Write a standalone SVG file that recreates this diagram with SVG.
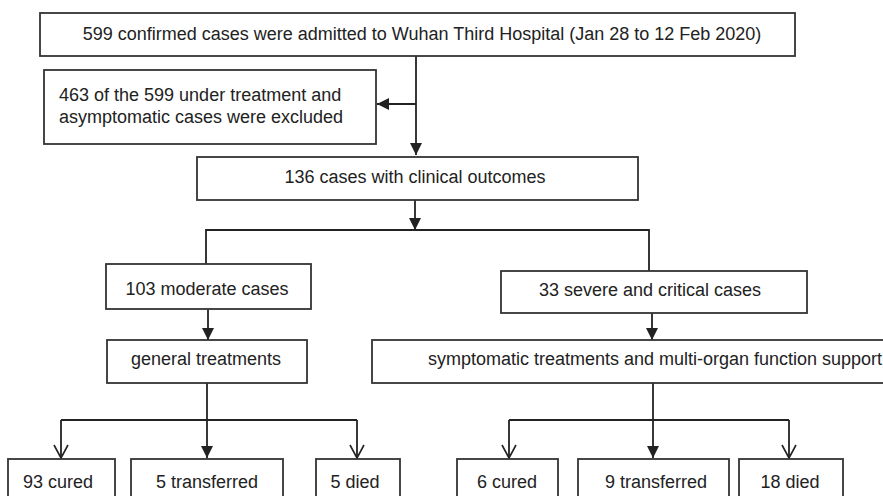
<svg xmlns="http://www.w3.org/2000/svg" width="883" height="496" viewBox="0 0 883 496">
<style>
  .box { fill: #ffffff; stroke: #333333; stroke-width: 1.8; }
  .t { font-family: "Liberation Sans", Arial, sans-serif; font-size: 18px; fill: #222222; }
  .c { text-anchor: middle; }
  .ln { fill: none; stroke: #222222; stroke-width: 1.8; }
</style>
<defs>
  <marker id="af" viewBox="0 0 12 12" refX="12" refY="6" markerWidth="12" markerHeight="12" markerUnits="userSpaceOnUse" orient="auto">
    <path d="M0,0 L12,6 L0,12 z" fill="#222222"/>
  </marker>
  <marker id="ao" viewBox="-1 -1 16 16" refX="13" refY="7" markerWidth="16" markerHeight="16" markerUnits="userSpaceOnUse" orient="auto">
    <path d="M0,0 L13,7 L0,14" fill="none" stroke="#222222" stroke-width="1.6"/>
  </marker>
</defs>
<rect width="883" height="496" fill="#ffffff"/>

<g id="connectors">
  <path class="ln" d="M416,56 V155" marker-end="url(#af)"/>
  <path class="ln" d="M416,104 H377" marker-end="url(#af)"/>
  <path class="ln" d="M415,200 V230" marker-end="url(#af)"/>
  <path class="ln" d="M206,264 V230 H649 V271"/>
  <path class="ln" d="M208,309 V340" marker-end="url(#af)"/>
  <path class="ln" d="M652,313 V340" marker-end="url(#af)"/>
  <path class="ln" d="M207,383 V458" marker-end="url(#af)"/>
  <path class="ln" d="M61,420 H357"/>
  <path class="ln" d="M61,420 V458" marker-end="url(#ao)"/>
  <path class="ln" d="M357,420 V458" marker-end="url(#ao)"/>
  <path class="ln" d="M653,383 V458" marker-end="url(#af)"/>
  <path class="ln" d="M509,420 H789"/>
  <path class="ln" d="M509,420 V458" marker-end="url(#ao)"/>
  <path class="ln" d="M789,420 V458" marker-end="url(#ao)"/>
</g>

<g id="n_admitted">
  <rect class="box" x="40" y="13" width="755" height="43"/>
  <text class="t c" x="422" y="40">599 confirmed cases were admitted to Wuhan Third Hospital (Jan 28 to 12 Feb 2020)</text>
</g>
<g id="n_excluded">
  <rect class="box" x="44" y="70" width="332" height="74"/>
  <text class="t" x="59" y="101">463 of the 599 under treatment and</text>
  <text class="t" x="59" y="123">asymptomatic cases were excluded</text>
</g>
<g id="n_outcomes">
  <rect class="box" x="197" y="157" width="441" height="43"/>
  <text class="t c" x="415" y="183">136 cases with clinical outcomes</text>
</g>
<g id="n_moderate">
  <rect class="box" x="106" y="264" width="205" height="45"/>
  <text class="t c" x="207" y="295">103 moderate cases</text>
</g>
<g id="n_severe">
  <rect class="box" x="501" y="271" width="306" height="42"/>
  <text class="t c" x="650" y="296">33 severe and critical cases</text>
</g>
<g id="n_general">
  <rect class="box" x="107" y="340" width="200" height="43"/>
  <text class="t c" x="206" y="365">general treatments</text>
</g>
<g id="n_symptomatic">
  <rect class="box" x="372" y="340" width="570" height="43"/>
  <text class="t c" x="655" y="365">symptomatic treatments and multi-organ function support</text>
</g>
<g id="n_m_cured">
  <rect class="box" x="8" y="459" width="107" height="50"/>
  <text class="t c" x="58" y="488">93 cured</text>
</g>
<g id="n_m_transferred">
  <rect class="box" x="131" y="459" width="152" height="50"/>
  <text class="t c" x="207" y="488">5 transferred</text>
</g>
<g id="n_m_died">
  <rect class="box" x="316" y="459" width="84" height="50"/>
  <text class="t c" x="355" y="488">5 died</text>
</g>
<g id="n_s_cured">
  <rect class="box" x="457" y="459" width="101" height="50"/>
  <text class="t c" x="507" y="488">6 cured</text>
</g>
<g id="n_s_transferred">
  <rect class="box" x="578" y="459" width="151" height="50"/>
  <text class="t c" x="656" y="488">9 transferred</text>
</g>
<g id="n_s_died">
  <rect class="box" x="739" y="459" width="104" height="50"/>
  <text class="t c" x="790" y="488">18 died</text>
</g>
</svg>
